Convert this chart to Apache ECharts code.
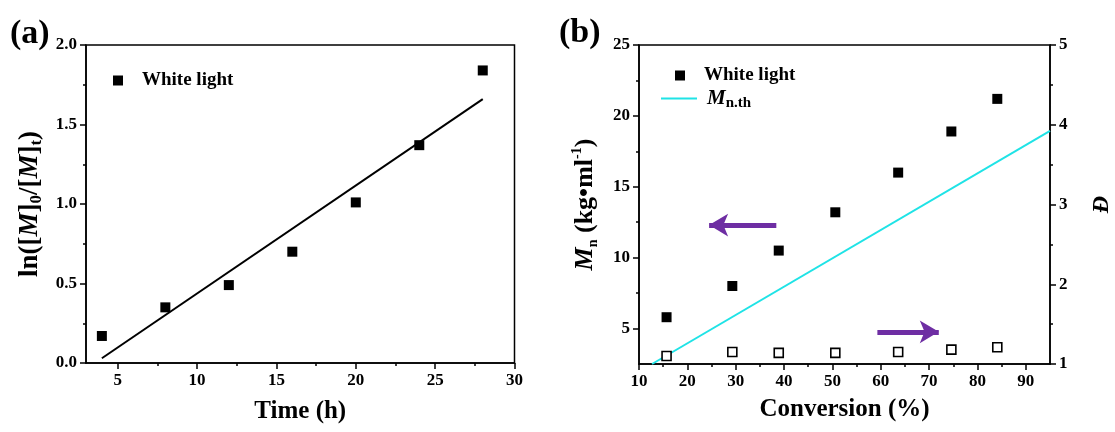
<!DOCTYPE html>
<html><head><meta charset="utf-8">
<script src="https://cdn.jsdelivr.net/npm/echarts@6/dist/echarts.min.js"></script>
<style>html,body{margin:0;padding:0;background:#fff}#c{width:1115px;height:432px}</style>
</head><body><div id="c"></div>
<script>
// ---------- Panel (a) ----------
const timeH = [4, 8, 12, 16, 20, 24, 28];
const lnRatio = [0.17, 0.35, 0.49, 0.70, 1.01, 1.37, 1.84];
const fitTime = [4, 28];
const fitLn = [0.03, 1.66];
const aXMajor = [5, 10, 15, 20, 25, 30];
const aXMinor = [7.5, 12.5, 17.5, 22.5, 27.5];
const aYMajor = [0, 0.5, 1.0, 1.5, 2.0];
const aYMinor = [0.25, 0.75, 1.25, 1.75];
// ---------- Panel (b) ----------
const conversion = [15.7, 29.3, 38.9, 50.6, 63.6, 74.6, 84.1];
const mn = [5.8, 8.0, 10.5, 13.2, 16.0, 18.9, 21.2];
const dispersity = [1.10, 1.15, 1.14, 1.14, 1.15, 1.18, 1.21];
const thConv = [12.7, 95];
const thMn = [2.5, 18.95];
const bXMajor = [10, 20, 30, 40, 50, 60, 70, 80, 90];
const bXMinor = [15, 25, 35, 45, 55, 65, 75, 85];
const bYMajor = [5, 10, 15, 20, 25];
const bYMinor = [7.5, 12.5, 17.5, 22.5];
const dMajor = [1, 2, 3, 4, 5];
const dMinor = [1.5, 2.5, 3.5, 4.5];
// arrow annotations (tail -> head), in conversion / Mn coordinates
const arrowLeft = [[38.4, 12.3], [24.5, 12.3]];
const arrowRight = [[59.3, 4.77], [72.0, 4.77]];

const FONT = '"Liberation Serif", "Times New Roman", serif';
const BLACK = '#000';
const CYAN = '#1fe3e6';
const PURPLE = '#6e2ea3';

function zip(a, b) { return a.map((v, i) => [v, b[i]]); }

function axisPair(gridIndex, position, min, max, major, minor, fmt, extra) {
  const base = {
    type: 'value', gridIndex, position, min, max, offset: 0,
    splitLine: { show: false }, scale: false
  };
  const majorAx = Object.assign({}, base, {
    axisLine: { show: true, onZero: false, lineStyle: { color: BLACK, width: 1.5 } },
    axisTick: { show: true, inside: false, length: 6, customValues: major, lineStyle: { color: BLACK, width: 1.5 } },
    axisLabel: { show: true, customValues: major, formatter: fmt, margin: 9,
      fontFamily: FONT, fontWeight: 'bold', fontSize: 17, color: BLACK }
  }, extra || {});
  const minorAx = Object.assign({}, base, {
    axisLine: { show: false, onZero: false },
    axisTick: { show: true, inside: false, length: 3, customValues: minor, lineStyle: { color: BLACK, width: 1.5 } },
    axisLabel: { show: false }
  });
  return [majorAx, minorAx];
}

const nameStyleBase = { fontFamily: FONT, fontWeight: 'bold', fontSize: 25, color: BLACK };

const aX = axisPair(0, 'bottom', 3, 30, aXMajor, aXMinor, v => String(v), {
  name: 'Time (h)', nameLocation: 'middle', nameGap: 36, nameTextStyle: nameStyleBase
});
const aY = axisPair(0, 'left', 0, 2, aYMajor, aYMinor, v => v.toFixed(1), {
  name: '{n|ln([}{i|M}{n|]}{s|0}{n|/[}{i|M}{n|]}{s|t}{n|)}',
  nameLocation: 'middle', nameRotate: 90, nameGap: 41,
  nameTextStyle: Object.assign({}, nameStyleBase, {
    rich: {
      n: { fontFamily: FONT, fontWeight: 'bold', fontSize: 27, lineHeight: 30, color: BLACK },
      i: { fontFamily: FONT, fontWeight: 'bold', fontStyle: 'italic', fontSize: 27, lineHeight: 30, color: BLACK },
      s: { fontFamily: FONT, fontWeight: 'bold', fontSize: 17, lineHeight: 15, verticalAlign: 'bottom', color: BLACK }
    }
  })
});
const bX = axisPair(1, 'bottom', 10, 95, bXMajor, bXMinor, v => String(v), {
  name: 'Conversion (%)', nameLocation: 'middle', nameGap: 33, nameTextStyle: nameStyleBase
});
const bY = axisPair(1, 'left', 2.5, 25, bYMajor, bYMinor, v => String(v), {
  name: '{i|M}{s|n}{n| (kg•ml}{p|-1}{n|)}',
  nameLocation: 'middle', nameRotate: 90, nameGap: 39,
  nameTextStyle: Object.assign({}, nameStyleBase, {
    rich: {
      n: { fontFamily: FONT, fontWeight: 'bold', fontSize: 26, lineHeight: 30, color: BLACK },
      i: { fontFamily: FONT, fontWeight: 'bold', fontStyle: 'italic', fontSize: 26, lineHeight: 30, color: BLACK },
      s: { fontFamily: FONT, fontWeight: 'bold', fontSize: 14, lineHeight: 14, verticalAlign: 'bottom', color: BLACK },
      p: { fontFamily: FONT, fontWeight: 'bold', fontSize: 14, lineHeight: 14, verticalAlign: 'top', color: BLACK }
    }
  })
});
const bD = axisPair(1, 'right', 1, 5, dMajor, dMinor, v => String(v), {
  name: 'Đ', nameLocation: 'middle', nameRotate: 90, nameGap: 40,
  nameTextStyle: Object.assign({}, nameStyleBase, { fontStyle: 'italic', fontSize: 24 })
});

const legendRich = {
  sp: { width: 14 },
  sp2: { width: 5 },
  t: { fontFamily: FONT, fontWeight: 'bold', fontSize: 19, color: BLACK },
  i: { fontFamily: FONT, fontStyle: 'italic', fontWeight: 'bold', fontSize: 21, color: BLACK, lineHeight: 24 },
  s: { fontFamily: FONT, fontWeight: 'bold', fontSize: 15, color: BLACK, lineHeight: 15, verticalAlign: 'bottom' }
};

const option = {
  animation: false,
  backgroundColor: '#fff',
  title: [
    { text: '(a)', left: 5, top: 12, textStyle: { fontFamily: FONT, fontWeight: 'bold', fontSize: 34, color: BLACK } },
    { text: '(b)', left: 554, top: 11, textStyle: { fontFamily: FONT, fontWeight: 'bold', fontSize: 34, color: BLACK } }
  ],
  grid: [
    { left: 86, right: 1115 - 514.5, top: 45, bottom: 432 - 363, show: true, borderColor: BLACK, borderWidth: 1.5, backgroundColor: 'transparent', containLabel: false },
    { left: 639, right: 1115 - 1066.5, top: 45, bottom: 432 - 364, show: true, borderColor: BLACK, borderWidth: 1.5, backgroundColor: 'transparent', containLabel: false }
  ],
  xAxis: [aX[0], aX[1], bX[0], bX[1]],
  yAxis: [aY[0], aY[1], bY[0], bY[1], bD[0], bD[1]],
  legend: [
    { data: [{ name: 'White light', icon: 'rect' }], left: 108, top: 66, itemWidth: 10, itemHeight: 10,
      formatter: n => '{sp|}{t|' + n + '}', textStyle: { rich: legendRich }, selectedMode: false },
    { data: [{ name: 'White light', icon: 'rect' }], left: 670, top: 61, itemWidth: 10, itemHeight: 10,
      formatter: n => '{sp|}{t|' + n + '}', textStyle: { rich: legendRich }, selectedMode: false },
    { data: [{ name: 'Mn.th', icon: 'rect', itemStyle: { color: CYAN } }], left: 656, top: 83, itemWidth: 36, itemHeight: 2,
      formatter: () => '{sp2|}{i|M}{s|n.th}', textStyle: { rich: legendRich }, selectedMode: false }
  ],
  series: [
    { name: 'White light', type: 'scatter', xAxisIndex: 0, yAxisIndex: 0, symbol: 'rect', symbolSize: 10,
      itemStyle: { color: BLACK, opacity: 1 }, data: zip(timeH, lnRatio), z: 5 },
    { name: 'fit', type: 'line', xAxisIndex: 0, yAxisIndex: 0, symbol: 'none',
      lineStyle: { color: BLACK, width: 2 }, data: zip(fitTime, fitLn) },
    { name: 'White light', type: 'scatter', xAxisIndex: 2, yAxisIndex: 2, symbol: 'rect', symbolSize: 10,
      itemStyle: { color: BLACK, opacity: 1 }, data: zip(conversion, mn), z: 5 },
    { name: 'Mn.th', type: 'line', xAxisIndex: 2, yAxisIndex: 2, symbol: 'none', showSymbol: false,
      lineStyle: { color: CYAN, width: 2 }, itemStyle: { color: CYAN }, data: zip(thConv, thMn),
      markLine: {
        silent: true, symbol: ['none', 'arrow'], symbolSize: [17, 19],
        label: { show: false },
        lineStyle: { color: PURPLE, width: 5, type: 'solid', opacity: 1 },
        emphasis: { disabled: true },
        data: [
          [{ coord: arrowLeft[0] }, { coord: arrowLeft[1] }],
          [{ coord: arrowRight[0] }, { coord: arrowRight[1] }]
        ]
      } },
    { name: 'Đ', type: 'scatter', xAxisIndex: 2, yAxisIndex: 4, symbol: 'rect', symbolSize: 9,
      itemStyle: { color: '#fff', borderColor: BLACK, borderWidth: 1.6, opacity: 1 }, data: zip(conversion, dispersity), z: 5 }
  ]
};
const chart = echarts.init(document.getElementById('c'), null, { renderer: 'canvas' });
chart.setOption(option);
</script></body></html>
